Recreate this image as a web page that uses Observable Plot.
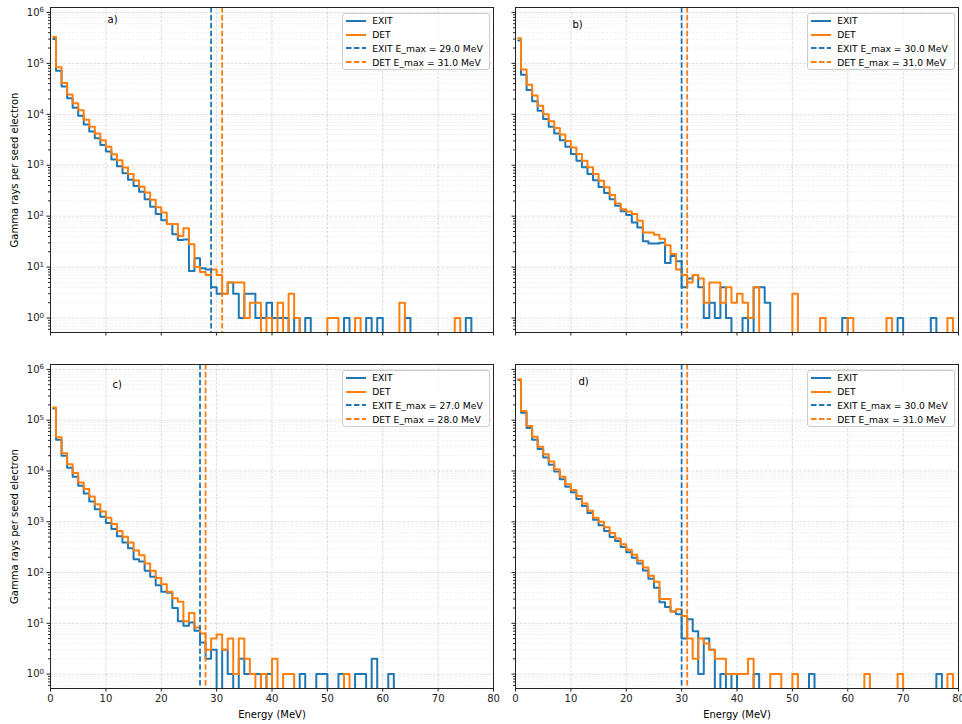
<!DOCTYPE html>
<html><head><meta charset="utf-8">
<script src="https://cdn.jsdelivr.net/npm/d3@7"></script>
<script src="https://cdn.jsdelivr.net/npm/@observablehq/plot@0.6"></script>
<style>
body{margin:0;background:#fff;font-family:"DejaVu Sans",sans-serif;}
#fig{position:relative;width:962px;height:724px;}
.legend{position:absolute;box-sizing:border-box;border:1px solid #cccccc;border-radius:3px;background:rgba(255,255,255,0.85);font-size:9.2px;color:#000;padding:0 0 0 3px;}
.legend .row{height:13.9px;display:flex;align-items:center;white-space:nowrap;}
.legend svg{margin-right:6.5px;flex:none;}
</style></head><body><div id="fig"></div>
<script>
// ---- data (values per 1 MeV bin; first bin 0.5–1 MeV) ----
const binEdges = [0.5].concat(d3.range(1, 81));
const xTicks = [0, 10, 20, 30, 40, 50, 60, 70, 80];
const yTicks = [1, 10, 100, 1e3, 1e4, 1e5, 1e6];
const yTickExponents = ["0", "1", "2", "3", "4", "5", "6"];
const panelLabels = ["a)", "b)", "c)", "d)"];
const emaxExit = [29.0, 30.0, 27.0, 30.0];
const emaxDet = [31.0, 31.0, 28.0, 31.0];
const seriesNames = ["EXIT", "DET"];

const exitA = [3.0e5,7.2e4,3.5e4,2.07e4,1.34e4,9.4e3,6.3e3,4.6e3,3.4e3,2.5e3,
  1870,1290,950,700,520,390,300,215,153,110,
  83,70,44,34,35,8.4,15,9.5,9,4,
  3,3,5,3,1,3,3,1,1,2,
  1,1,1,0,1,0,1,0,0,0,
  0,0,0,1,0,0,0,1,0,1,
  0,0,0,0,1,0,0,0,0,0,
  0,0,0,0,0,1,0,0,0,0];
const detA = [3.3e5,8.4e4,4.1e4,2.45e4,1.65e4,1.2e4,7.8e3,5.7e3,4.2e3,3.1e3,
  2300,1650,1250,900,670,500,380,290,210,150,
  118,70,70,41,58,28,10,8,7,9,
  7,3,5,5,5,1,2,2,0,1,
  0,2,0,3,1,0,0,0,0,0,
  1,1,0,0,0,1,0,0,0,0,
  0,0,0,2,0,0,0,0,0,0,
  0,0,0,1,0,0,0,0,0,0];
const exitB = [2.8e5,6.0e4,3.0e4,1.8e4,1.18e4,8.1e3,5.7e3,4.2e3,3.1e3,2.3e3,
  1660,1230,910,670,510,375,285,215,160,125,
  105,75,60,32,29,29,30,12,16.5,13,
  4,6,7,4,1,2,1,4,1,0,
  0,1,0,4,4,2,0,0,0,0,
  0,0,0,0,0,0,0,0,0,1,
  0,0,0,0,0,0,0,0,0,1,
  0,0,0,0,0,1,0,0,0,0];
const detB = [3.1e5,7.6e4,3.8e4,2.33e4,1.48e4,1.0e4,7.3e3,5.4e3,4.0e3,3.0e3,
  2240,1660,1230,910,670,495,370,260,178,137,
  123,110,81,48,48,43,36,27,18,9,
  7,5,7,6,2,5,5,2,4,2,
  3,2,1,4,0,0,0,0,0,0,
  3,0,0,0,0,1,0,0,0,0,
  1,0,0,0,0,0,0,1,0,0,
  0,0,0,0,0,0,0,0,1,0];
const exitC = [1.7e5,4.1e4,2.0e4,1.16e4,7.7e3,5.1e3,3.6e3,2.5e3,1.77e3,1.25e3,
  940,720,520,390,300,183,165,108,83,56,
  42,40,20,11,9,10.4,7.1,4.2,2,3,
  0,3,1,0,2,1,1,1,0,1,
  0,0,0,0,0,1,0,0,1,1,
  0,0,1,0,0,1,1,0,2,0,
  0,1,0,0,0,0,0,0,0,0,
  0,0,0,0,0,0,0,0,0,0];
const detC = [1.78e5,4.6e4,2.24e4,1.35e4,9.1e3,5.9e3,4.4e3,3.16e3,2.2e3,1.6e3,
  1200,900,660,505,390,270,220,150,108,78,
  59,42,31,26.5,11,16,8.3,6.3,3,5,
  6,3,5,1,5,2,1,0,1,0,
  2,0,1,1,0,0,0,0,0,0,
  0,0,0,1,0,0,0,0,0,0,
  0,0,0,0,0,0,0,0,0,0,
  0,0,0,0,0,0,0,0,0,0];
const exitD = [6.2e5,1.4e5,7.0e4,4.1e4,2.7e4,1.84e4,1.32e4,9.8e3,6.9e3,4.9e3,
  3800,2800,2050,1480,1100,850,660,500,420,320,
  250,195,150,110,75,50,26,21,17,15,
  5,12,7,1,5,3,0,1,0,1,
  0,0,0,1,0,0,0,0,0,0,
  0,0,0,1,0,0,0,0,0,0,
  0,0,0,0,0,0,0,0,0,0,
  0,0,0,0,0,0,1,0,0,0];
const detD = [6.4e5,1.52e5,7.7e4,4.7e4,3.0e4,2.14e4,1.54e4,1.08e4,7.7e3,5.5e3,
  4200,3200,2300,1640,1200,1000,780,600,470,360,
  280,225,170,126,86,66,30,30,17,19,
  14,5,2,5,4,3,2,2,1,1,
  1,1,2,0,0,0,1,1,0,0,
  1,0,0,0,0,0,0,0,0,0,
  0,0,0,1,0,0,0,0,0,1,
  0,0,0,0,0,0,0,0,1,0];

const exitSeries = [exitA, exitB, exitC, exitD];
const detSeries = [detA, detB, detC, detD];

// ---- styles ----
const BLUE = "#1f77b4", ORANGE = "#ff7f0e";
const FLOOR = 0.01;
const DASH = "5.5,2.4";
const yMinor = [];
for (let e = -1; e <= 6; e++) for (let m = 2; m <= 9; m++) {
  const v = m * Math.pow(10, e);
  if (v >= 0.52 && v <= 1.25e6) yMinor.push(v);
}

function stepPoints(vals) {
  const pts = [];
  vals.forEach((v, i) => pts.push({x: binEdges[i], y: v > 0 ? v : FLOOR}));
  const last = vals[vals.length - 1];
  pts.push({x: binEdges[vals.length], y: last > 0 ? last : FLOOR});
  pts.push({x: binEdges[vals.length], y: FLOOR});
  return pts;
}

const fig = document.getElementById("fig");
const labelOffsets = [[57, 12], [57, 17], [62, 20], [63, 17]];

for (let i = 0; i < 4; i++) {
  const isBottom = i >= 2, isLeft = i % 2 === 0;
  const left = isLeft ? 0 : 465, top = isBottom ? 357 : 0;
  const height = isBottom ? 367 : 345;
  const marks = [
    Plot.gridX({ticks: xTicks, stroke: "#b0b0b0", strokeOpacity: 0.5, strokeWidth: 0.8, strokeDasharray: "3,1.3"}),
    Plot.gridY({ticks: yMinor, stroke: "#b0b0b0", strokeOpacity: 0.3, strokeWidth: 0.6, strokeDasharray: "3,1.3"}),
    Plot.gridY({ticks: yTicks, stroke: "#b0b0b0", strokeOpacity: 0.5, strokeWidth: 0.8, strokeDasharray: "3,1.3"}),
    Plot.line(stepPoints(exitSeries[i]), {x: "x", y: "y", curve: "step-after", stroke: BLUE, strokeWidth: 2, clip: true}),
    Plot.line(stepPoints(detSeries[i]), {x: "x", y: "y", curve: "step-after", stroke: ORANGE, strokeWidth: 2, clip: true}),
    Plot.ruleX([emaxExit[i]], {stroke: BLUE, strokeWidth: 1.8, strokeDasharray: DASH}),
    Plot.ruleX([emaxDet[i]], {stroke: ORANGE, strokeWidth: 1.8, strokeDasharray: DASH}),
    Plot.frame({stroke: "#222", strokeWidth: 1}),
    Plot.axisX({ticks: xTicks, tickSize: 3.5, tickPadding: 3, label: null,
      tickFormat: isBottom ? (d) => String(d) : () => "", fontSize: 10}),
    Plot.axisY({ticks: yTicks, tickSize: 3.5, tickPadding: 3, label: null,
      tickFormat: isLeft ? (d) => "10" + yTickExponents[yTicks.indexOf(d)] : () => "", fontSize: 10}),
    Plot.axisY({ticks: yMinor, tickSize: 2, label: null, tickFormat: () => ""}),
    Plot.text([panelLabels[i]], {text: (d) => d, frameAnchor: "top-left", dx: labelOffsets[i][0], dy: labelOffsets[i][1],
      textAnchor: "start", lineAnchor: "middle", fontSize: 10, fill: "#000"})
  ];
  if (isLeft) marks.push(Plot.text(["Gamma rays per seed electron"], {text: (d) => d, frameAnchor: "left", dx: -36,
    rotate: -90, textAnchor: "middle", lineAnchor: "middle", fontSize: 10, fill: "#000"}));
  if (isBottom) marks.push(Plot.text(["Energy (MeV)"], {text: (d) => d, frameAnchor: "bottom", dy: 26,
    textAnchor: "middle", lineAnchor: "middle", fontSize: 10, fill: "#000"}));
  const svg = Plot.plot({
    width: 495, height,
    marginLeft: 50, marginRight: 2, marginTop: 7, marginBottom: isBottom ? 36 : 13,
    x: {domain: [0, 80]},
    y: {type: "log", domain: [0.52, 1.25e6]},
    style: {background: "transparent", fontFamily: "DejaVu Sans", fontSize: "10px", color: "#222", overflow: "visible"},
    marks
  });
  // superscript exponents on y tick labels
  svg.querySelectorAll('g[aria-label="y-axis tick label"] text').forEach((t) => {
    const s = t.textContent;
    if (s.length > 2) {
      const exp = s.slice(2);
      t.textContent = "10";
      const ts = document.createElementNS("http://www.w3.org/2000/svg", "tspan");
      ts.setAttribute("dy", "-0.45em");
      ts.setAttribute("font-size", "7px");
      ts.textContent = exp;
      t.appendChild(ts);
    }
  });
  svg.style.position = "absolute";
  svg.style.left = left + "px";
  svg.style.top = top + "px";
  fig.appendChild(svg);

  // legend
  const lg = document.createElement("div");
  lg.className = "legend";
  lg.style.left = (left + 341.7) + "px";
  lg.style.top = (top + 12.7) + "px";
  lg.style.width = "148px";
  lg.style.height = "57.5px";
  const entries = [
    {name: seriesNames[0], color: BLUE, dash: null},
    {name: seriesNames[1], color: ORANGE, dash: null},
    {name: `${seriesNames[0]} E_max = ${emaxExit[i].toFixed(1)} MeV`, color: BLUE, dash: DASH},
    {name: `${seriesNames[1]} E_max = ${emaxDet[i].toFixed(1)} MeV`, color: ORANGE, dash: DASH}
  ];
  for (const e of entries) {
    const row = document.createElement("div");
    row.className = "row";
    row.innerHTML = `<svg width="20" height="6"><line x1="0" x2="20" y1="3" y2="3" stroke="${e.color}" stroke-width="${e.dash ? 1.8 : 2}" ${e.dash ? `stroke-dasharray="${e.dash}"` : ""}/></svg><span>${e.name}</span>`;
    lg.appendChild(row);
  }
  fig.appendChild(lg);
}
</script></body></html>
